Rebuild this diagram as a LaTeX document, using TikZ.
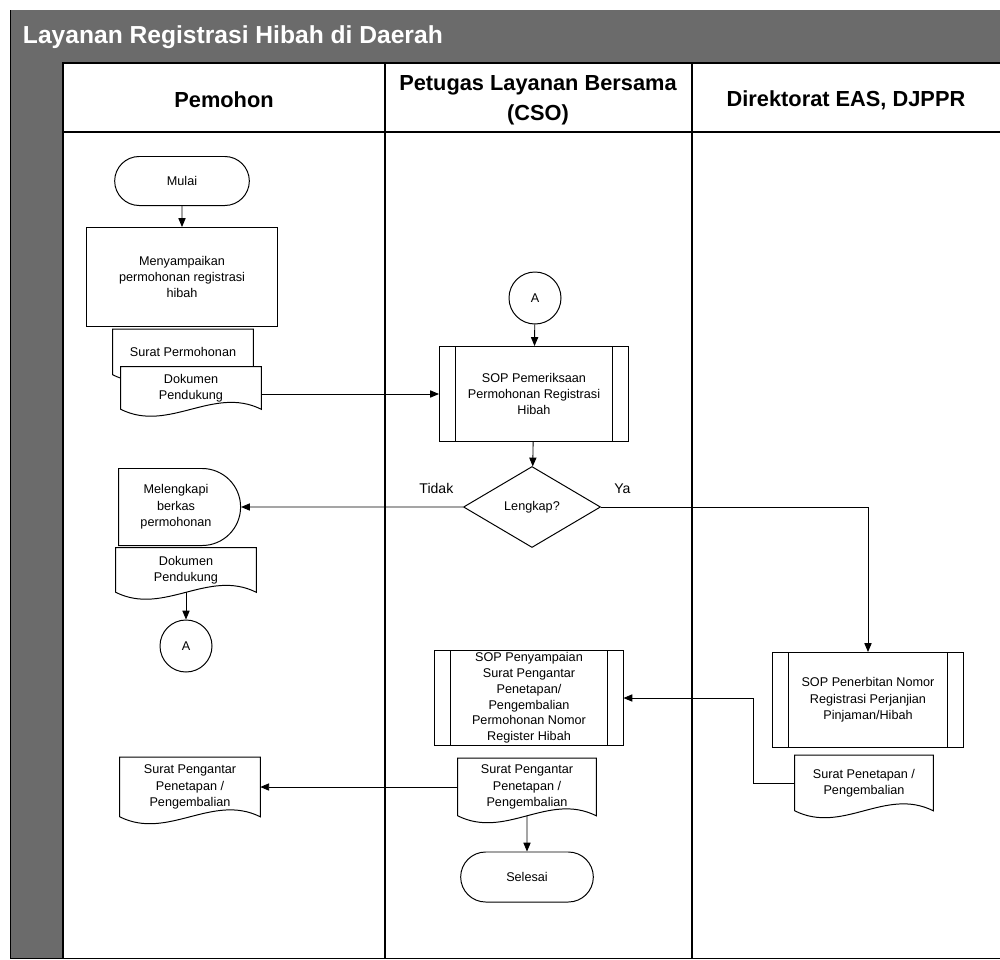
\documentclass[tikz,border=0pt]{standalone}
\usepackage{fontspec}
\setmainfont{Liberation Sans}
\usetikzlibrary{shapes.geometric,shapes.misc,arrows.meta}

\pgfdeclarelayer{frame}
\pgfdeclarelayer{docs}
\pgfsetlayers{frame,docs,main}

% outline of a document symbol round a node
\newcommand{\docoutline}[1]{%
  \draw[fill=white,line width=0.7pt] (#1.north west) -- (#1.north east) -- (#1.south east)
    .. controls +(-12mm,6mm) and +(12mm,-6mm) .. (#1.south west) -- cycle;}

\begin{document}
\begin{tikzpicture}[x=0.025cm,y=-0.025cm,
  every node/.style={font=\fontsize{9}{11.7}\selectfont,align=center},
  lane/.style={font=\fontsize{15.5}{21}\selectfont\bfseries},
  terminal/.style={draw,line width=0.7pt,rounded rectangle,minimum width=36mm,minimum height=12.25mm},
  proses/.style={draw,line width=0.7pt,rectangle,inner sep=0pt},
  sop/.style={proses,minimum width=47.25mm,minimum height=23.75mm,
    path picture={\draw ([xshift=4mm]path picture bounding box.north west) -- ([xshift=4mm]path picture bounding box.south west)
      ([xshift=-4mm]path picture bounding box.north east) -- ([xshift=-4mm]path picture bounding box.south east);}},
  dok/.style={inner sep=0pt,minimum width=35mm},
  konektor/.style={draw,line width=0.7pt,circle,minimum size=13mm,inner sep=0pt},
  keputusan/.style={draw,line width=0.7pt,diamond,minimum width=34.25mm,minimum height=20.25mm,inner sep=0pt},
  jawab/.style={font=\fontsize{10}{12}\selectfont}]
\useasboundingbox (0,0) rectangle (1000,960);

% frame and lanes
\begin{pgfonlayer}{frame}
  \fill[black!58] (10,10) rectangle (1000,958);
  \fill[white] (63,63) rectangle (1000,958);
  \draw[line width=0.6pt] (10,10) -- (10,958) -- (1000,958);
  \draw[line width=1pt] (1000,63) -- (63,63) -- (63,958);
  \draw[line width=1pt] (63,132) -- (1000,132);
  \draw[line width=1pt] (385,63) -- (385,958);
  \draw[line width=1pt] (692,63) -- (692,958);
\end{pgfonlayer}

\node[anchor=west,text=white,font=\fontsize{17.5}{20}\selectfont\bfseries] (judul) at (18,37) {Layanan Registrasi Hibah di Daerah};
\node[lane] (hPemohon) at (224,100) {Pemohon};
\node[lane] (hCSO) at (538,100) {Petugas Layanan Bersama\\(CSO)};
\node[lane] (hDit) at (846,100) {Direktorat EAS, DJPPR};

% Pemohon
\node[terminal] (mulai) at (182,181) {Mulai};
\node[proses,minimum width=47.5mm,minimum height=24.75mm] (ajukan) at (182,277) {Menyampaikan\\permohonan registrasi\\hibah};
\node[dok,minimum height=11.25mm] (srtMohon) at (183,352) {Surat Permohonan};
\node[dok,minimum height=10.5mm] (dokMohon) at (191,388) {Dokumen\\Pendukung};
\node[draw,line width=0.7pt,rounded rectangle,rounded rectangle left arc=none,minimum width=30.5mm,minimum height=19.25mm,inner sep=0pt] (lengkapi) at (176,507) {Melengkapi\\berkas\\permohonan};
\node[dok,minimum height=11mm] (dokLagi) at (186,570) {Dokumen\\Pendukung};
\node[konektor] (keA) at (186,646) {A};
\node[dok,minimum height=14.75mm] (pengantarL) at (190,787) {Surat Pengantar\\Penetapan /\\Pengembalian};

% CSO
\node[konektor] (dariA) at (535,298) {A};
\node[sop] (periksa) at (534,394) {SOP Pemeriksaan\\Permohonan Registrasi\\Hibah};
\node[keputusan] (cek) at (532,507) {Lengkap?};
\node[sop,minimum width=47mm,font=\fontsize{9}{11.2}\selectfont] (sampaikan) at (529,698) {SOP Penyampaian\\Surat Pengantar\\Penetapan/\\Pengembalian\\Permohonan Nomor\\Register Hibah};
\node[dok,minimum width=34.5mm,minimum height=14.25mm] (pengantarC) at (527,787) {Surat Pengantar\\Penetapan /\\Pengembalian};
\node[terminal,minimum width=35.5mm,minimum height=12.5mm] (selesai) at (527,877) {Selesai};

% Direktorat
\node[sop,minimum width=47.5mm] (terbit) at (868,700) {SOP Penerbitan Nomor\\Registrasi Perjanjian\\Pinjaman/Hibah};
\node[dok,minimum width=34.5mm,minimum height=13.75mm] (srtTetap) at (864,783) {Surat Penetapan /\\Pengembalian};

\begin{pgfonlayer}{docs}
  \docoutline{srtMohon}
  \docoutline{dokMohon}
  \docoutline{dokLagi}
  \docoutline{pengantarL}
  \docoutline{pengantarC}
  \docoutline{srtTetap}
\end{pgfonlayer}

\path[-{Triangle[length=2.2mm,width=1.8mm]},line width=0.6pt]
  (mulai) edge (ajukan)
  (dokMohon.east |- periksa) edge (periksa)
  (dariA) edge (periksa)
  (periksa) edge (cek)
  (cek) edge node[jawab,above=2mm,pos=0.12] {Tidak} (lengkapi)
  (cek) edge[to path={-| (\tikztotarget) \tikztonodes}] node[jawab,above=2mm,pos=0.04] {Ya} (terbit)
  (dokLagi) edge (keA)
  (srtTetap) edge[to path={(\tikztostart.west) -- ++(-41,0) |- (\tikztotarget)}] (sampaikan)
  (pengantarC) edge (pengantarL)
  (pengantarC) edge (selesai);
\end{tikzpicture}
\end{document}
